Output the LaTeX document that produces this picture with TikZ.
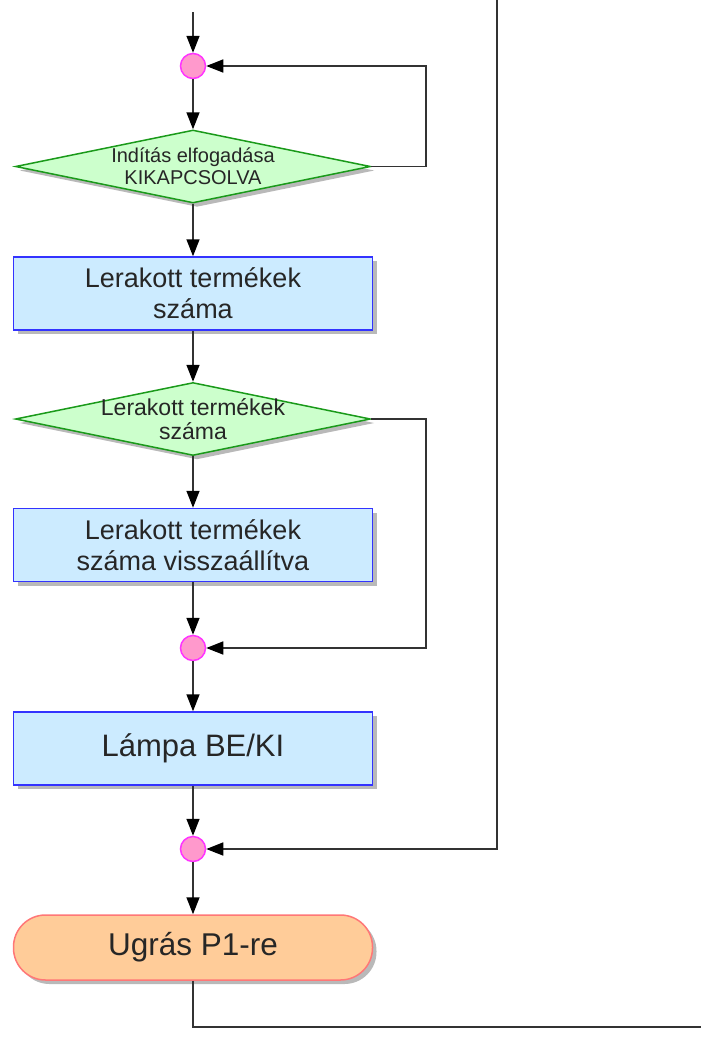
\documentclass[tikz,border=0pt]{standalone}
\usepackage{fontspec}
\setmainfont{Liberation Sans}
\usetikzlibrary{shapes.geometric,arrows.meta,shadows}

\definecolor{decfill}{HTML}{CCFFCC}
\definecolor{decline}{HTML}{1A9A1A}
\definecolor{actfill}{HTML}{CCEBFF}
\definecolor{actline}{HTML}{3333FF}
\definecolor{endfill}{HTML}{FFCC99}
\definecolor{endline}{HTML}{FF7777}
\definecolor{dotfill}{HTML}{FF99CC}
\definecolor{dotline}{HTML}{FF33FF}
\definecolor{wire}{HTML}{333333}

\tikzset{
	shade/.style={drop shadow={shadow xshift=4pt, shadow yshift=-4pt, fill=black!50, opacity=0.55}},
	decision/.style={diamond, aspect=4.86, draw=decline, fill=decfill, line width=1.5pt,
		minimum width=355pt, minimum height=73pt, inner sep=-12pt, align=center, text=black!85, shade},
	action/.style={rectangle, draw=actline, fill=actfill, line width=1.5pt,
		minimum width=359pt, minimum height=73pt, align=center, text=black!85, shade},
	jump/.style={rectangle, rounded corners=32pt, draw=endline, fill=endfill, line width=1.5pt,
		minimum width=359pt, minimum height=65pt, text=black!85, shade},
	joint/.style={circle, draw=dotline, fill=dotfill, line width=1.5pt, minimum size=25pt, inner sep=0pt},
	flow/.style={draw=wire, line width=1.6pt, -{Triangle[width=13pt,length=17pt,color=black]}},
	wireline/.style={draw=wire, line width=1.6pt}
}

\begin{document}
\begin{tikzpicture}[x=1pt, y=-1pt]
	\useasboundingbox (0,0) rectangle (701,1037);

	\coordinate (entry) at (193,12);
	\coordinate (rail) at (497,0);
	\coordinate (exit) at (701,1027);

	\node[joint] (j1) at (193,66) {};
	\node[decision, font=\fontsize{20}{22}\selectfont] (d1) at (193,166.5) {Indítás elfogadása\\KIKAPCSOLVA};
	\node[action, font=\fontsize{27}{31}\selectfont] (b1) at (193,293.5) {Lerakott termékek\\száma};
	\node[decision, font=\fontsize{23}{24}\selectfont] (d2) at (193,419) {Lerakott termékek\\száma};
	\node[action, font=\fontsize{27}{31}\selectfont] (b2) at (193,545) {Lerakott termékek\\száma visszaállítva};
	\node[joint] (j2) at (193,648) {};
	\node[action, font=\fontsize{31}{34}\selectfont] (b3) at (193,748.5) {Lámpa BE/KI};
	\node[joint] (j3) at (193,849) {};
	\node[jump, font=\fontsize{31.5}{34}\selectfont] (p1) at (193,947.5) {Ugrás P1-re};

	% main line
	\draw[flow] (entry) -- (j1);
	\draw[flow] (j1) -- (d1.north);
	\draw[flow] (d1.south) -- (b1.north);
	\draw[flow] (b1.south) -- (d2.north);
	\draw[flow] (d2.south) -- (b2.north);
	\draw[flow] (b2.south) -- (j2);
	\draw[flow] (j2) -- (b3.north);
	\draw[flow] (b3.south) -- (j3);
	\draw[flow] (j3) -- (p1.north);

	% side branches
	\draw[flow] (d1.east) -- ++(55,0) |- (j1);
	\draw[flow] (d2.east) -- ++(55,0) |- (j2);
	\draw[flow] (rail) |- (j3);
	\draw[wireline] (p1.south) |- (exit);
\end{tikzpicture}
\end{document}
